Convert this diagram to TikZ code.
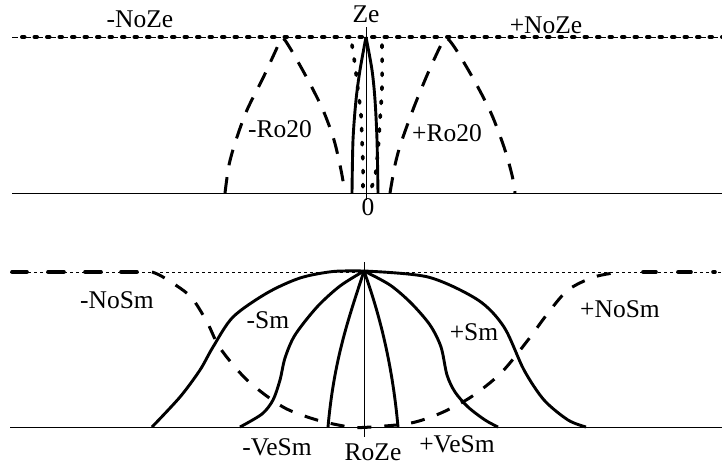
\documentclass[tikz,border=0pt]{standalone}
\usepackage{fontspec}
\setmainfont{Liberation Serif}
\begin{document}
\begin{tikzpicture}[x=1pt,y=-1pt,
  thinline/.style={line width=0.8pt},
  solidcurve/.style={line width=2.9pt},
  dashcurve/.style={line width=3pt,dash pattern=on 16pt off 12pt},
  dotcurve/.style={line width=3.6pt,line cap=round,dash pattern=on 2.5pt off 11.5pt},
  thinsmall/.style={line width=0.8pt,dash pattern=on 3pt off 3pt},
  thickdash/.style={line width=3.6pt,line cap=round},
  lab/.style={font=\fontsize{25.5}{28}\selectfont,inner sep=0pt,anchor=base}]
\useasboundingbox (0,0) rectangle (722,466);
% ---------- top panel ----------
\coordinate (tl) at (12,37); \coordinate (tr) at (722,37);
\coordinate (bl) at (12,193); \coordinate (br) at (722,193);
\coordinate (ax1) at (366,27); \coordinate (ax2) at (366,200);
\draw[thinline,dash pattern=on 6pt off 6.5pt] (tl) -- (tr);
\draw[line width=4pt,line cap=round,dash pattern=on 2.5pt off 10pt,dash phase=2.5pt] (tl) -- (tr);
\draw[thinline] (bl) -- (br);
\draw[thinline] (ax1) -- (ax2);
% solid narrow curves
\draw[solidcurve] plot[smooth] coordinates {(366,37) (360,70) (356,100) (353,140) (352,193)};
\draw[solidcurve] plot[smooth] coordinates {(366,37) (372,70) (375,100) (377,140) (378,193)};
% dotted curves
\draw[dotcurve] plot[smooth] coordinates {(352,45) (355,65) (358,90) (361,115) (362,140) (363,165) (363,193)};
\draw[dotcurve] plot[smooth] coordinates {(382,45) (382,87) (380,120) (378,150) (375,177) (369,193)};
% dashed arches
\draw[dashcurve] plot[smooth] coordinates {(225,193) (229,165) (236,140) (247,110) (263,78) (276,50) (282,38) (290,48) (308,80) (323,110) (334,140) (341,170) (345,193)};
\draw[dashcurve] plot[smooth] coordinates {(390,193) (395,165) (401,143) (414,107) (428,73) (440,47) (446,38) (455,48) (474,80) (491,113) (504,147) (512,175) (515,193)};
% labels
\node[lab] (ze) at (366,22) {Ze};
\node[lab] (nozem) at (140,27) {-NoZe};
\node[lab] (nozep) at (546,33) {+NoZe};
\node[lab] (rom) at (280,137) {-Ro20};
\node[lab] (rop) at (447,141) {+Ro20};
\node[lab] (zero) at (368,215) {0};
% ---------- bottom panel ----------
\coordinate (tl2) at (10,272); \coordinate (tr2) at (722,272);
\coordinate (bl2) at (10,427); \coordinate (br2) at (722,427);
\coordinate (ax3) at (364,262); \coordinate (ax4) at (364,437);
\draw[thinsmall] (tl2) -- (tr2);
\draw[thinline] (bl2) -- (br2);
\draw[thinline] (ax3) -- (ax4);
% thick dash-dot segments
\foreach \a/\b in {12/27,48/64,85/101,121/137,643/656,678/691,713/715}
  \draw[thickdash] (\a,272) -- (\b,272);
% curves
\draw[solidcurve] plot[smooth] coordinates {(152,427) (180,397) (200,370) (213,347) (233,317) (267,293) (300,278) (333,271.5) (364,271)};
\draw[solidcurve] plot[smooth] coordinates {(364,271) (428,277) (478,300) (504,327) (524,370) (544,400) (568,420) (586,427)};
\draw[solidcurve] plot[smooth] coordinates {(240,427) (262,414) (273,400) (280,380) (285,358) (295,335) (317,307) (340,286) (364,271)};
\draw[solidcurve] plot[smooth] coordinates {(364,271) (390,285) (411,303) (430,325) (441,347) (447,375) (455,392) (468,407) (485,420) (498,427)};
\draw[solidcurve] (364,271) .. controls (348,320) and (334,360) .. (328,427);
\draw[solidcurve] (364,271) .. controls (378,310) and (392,360) .. (398,427);
\draw[dashcurve,dash pattern=on 14pt off 13pt] plot[smooth] coordinates {(152,272) (163,277) (190,296) (207,322) (220,348) (247,380) (283,407) (317,420) (350,427) (371,427) (411,423) (441,413) (471,397) (501,373) (528,340) (548,313) (568,290) (594,277) (620,272)};
% labels
\node[lab] (nosmm) at (117,308) {-NoSm};
\node[lab] (smm) at (268,328) {-Sm};
\node[lab] (smp) at (474,340) {+Sm};
\node[lab] (nosmp) at (620,317) {+NoSm};
\node[lab] (vesmm) at (277,455) {-VeSm};
\node[lab] (roze) at (373,460) {RoZe};
\node[lab] (vesmp) at (457,452) {+VeSm};
\end{tikzpicture}
\end{document}
